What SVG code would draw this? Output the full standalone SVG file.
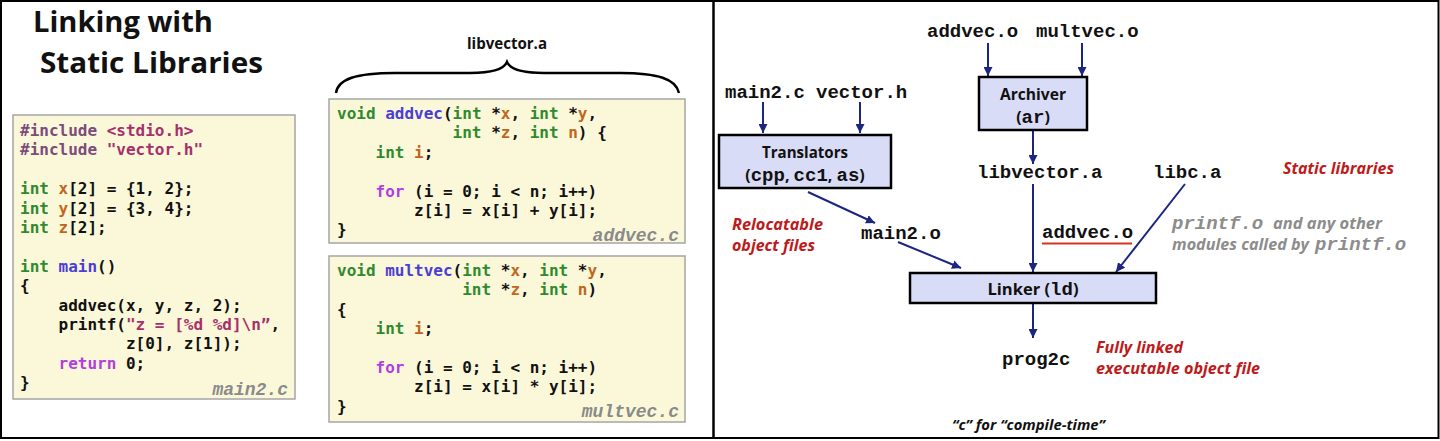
<svg xmlns="http://www.w3.org/2000/svg" width="1440" height="441" viewBox="0 0 1440 441">
<style>
text{white-space:pre}
.code{font-family:"DejaVu Sans Mono",monospace;font-weight:bold;font-size:16px;fill:#111}
.kw{fill:#2F8A2F}.var{fill:#C2651C}.fn{fill:#4A3ED4}.ctl{fill:#B43DE0}.pp{fill:#7C4C7C}.str{fill:#A6306C}
.fname{font-family:"Liberation Mono",monospace;font-weight:bold;font-style:italic;font-size:18px;fill:#8A8A8A}
.cbox{fill:#FBF8DA;stroke:#A5A5A5;stroke-width:1.5}
.pbox{fill:#D9DCF6;stroke:#000;stroke-width:2.5}
.mono{font-family:"Liberation Mono",monospace;font-weight:bold;font-size:19px;fill:#111}
.sans{font-family:"Open Sans",Lato,sans-serif;font-weight:bold;fill:#111}
.red{font-family:"Open Sans",Lato,sans-serif;font-weight:bold;font-style:italic;font-size:16px;fill:#BE1A1A}
.gray{font-family:"Open Sans",Lato,sans-serif;font-weight:bold;font-style:italic;font-size:16px;fill:#8C8C8C}
.graymono{font-family:"Liberation Mono",monospace;font-weight:bold;font-style:italic;font-size:19px;fill:#8C8C8C}
.conn{stroke:#1C2580;stroke-width:2;fill:none;marker-end:url(#ah)}
</style>
<defs>
<marker id="ah" viewBox="0 0 10 10" refX="10" refY="5" markerWidth="9" markerHeight="9" markerUnits="userSpaceOnUse" orient="auto">
<path d="M0,0 L10,5 L0,10 Z" fill="#1C2580"/>
</marker>
</defs>
<rect x="0" y="0" width="1440" height="441" fill="#fff"/>
<rect x="1" y="1" width="1437.5" height="437" fill="none" stroke="#000" stroke-width="2"/>
<line x1="713.5" y1="0" x2="713.5" y2="439" stroke="#000" stroke-width="2.5"/>

<g id="title">
<text class="sans" x="33" y="32" font-size="29" font-weight="800" textLength="180" lengthAdjust="spacingAndGlyphs">Linking with</text>
<text class="sans" x="40" y="73" font-size="29" font-weight="800" textLength="223" lengthAdjust="spacingAndGlyphs">Static Libraries</text>
</g>

<g id="main2c">
<rect class="cbox" x="13" y="115" width="282" height="284"/>
<text class="code" x="20" y="136"><tspan class="pp">#include</tspan> <tspan class="str">&lt;stdio.h&gt;</tspan></text>
<text class="code" x="20" y="155.4"><tspan class="pp">#include</tspan> <tspan class="str">"vector.h"</tspan></text>
<text class="code" x="20" y="194.2"><tspan class="kw">int</tspan> <tspan class="var">x</tspan>[2] = {1, 2};</text>
<text class="code" x="20" y="213.6"><tspan class="kw">int</tspan> <tspan class="var">y</tspan>[2] = {3, 4};</text>
<text class="code" x="20" y="233"><tspan class="kw">int</tspan> <tspan class="var">z</tspan>[2];</text>
<text class="code" x="20" y="271.8"><tspan class="kw">int</tspan> <tspan class="fn">main</tspan>()</text>
<text class="code" x="20" y="291.2">{</text>
<text class="code" x="20" y="310.6">    addvec(x, y, z, 2);</text>
<text class="code" x="20" y="330">    printf(<tspan class="str">"z = [%d %d]\n”</tspan>,</text>
<text class="code" x="20" y="349.4">           z[0], z[1]);</text>
<text class="code" x="20" y="368.8">    <tspan class="ctl">return</tspan> 0;</text>
<text class="code" x="20" y="388.2">}</text>
<text class="fname" x="288" y="395" text-anchor="end">main2.c</text>
</g>

<g id="libvector-brace">
<path d="M336,93 C338,79 356,73 395,73 L470,73 C494,73 504,69 507,62 C510,69 520,73 544,73 L620,73 C658,73 676,79 679,93" fill="none" stroke="#000" stroke-width="2.5"/>
<text class="sans" x="507" y="49" font-size="16" text-anchor="middle" textLength="80" lengthAdjust="spacingAndGlyphs">libvector.a</text>
</g>

<g id="addvecc">
<rect class="cbox" x="329" y="99" width="356" height="144"/>
<text class="code" x="337" y="119"><tspan class="kw">void</tspan> <tspan class="fn">addvec</tspan>(<tspan class="kw">int</tspan> *<tspan class="var">x</tspan>, <tspan class="kw">int</tspan> *<tspan class="var">y</tspan>,</text>
<text class="code" x="337" y="138.4">            <tspan class="kw">int</tspan> *<tspan class="var">z</tspan>, <tspan class="kw">int</tspan> <tspan class="var">n</tspan>) {</text>
<text class="code" x="337" y="157.8">    <tspan class="kw">int</tspan> <tspan class="var">i</tspan>;</text>
<text class="code" x="337" y="196.6">    <tspan class="ctl">for</tspan> (i = 0; i &lt; n; i++)</text>
<text class="code" x="337" y="216">        z[i] = x[i] + y[i];</text>
<text class="code" x="337" y="235.4">}</text>
<text class="fname" x="679" y="241" text-anchor="end">addvec.c</text>
</g>

<g id="multvecc">
<rect class="cbox" x="329" y="256" width="356" height="166"/>
<text class="code" x="337" y="276"><tspan class="kw">void</tspan> <tspan class="fn">multvec</tspan>(<tspan class="kw">int</tspan> *<tspan class="var">x</tspan>, <tspan class="kw">int</tspan> *<tspan class="var">y</tspan>,</text>
<text class="code" x="337" y="295.4">             <tspan class="kw">int</tspan> *<tspan class="var">z</tspan>, <tspan class="kw">int</tspan> <tspan class="var">n</tspan>)</text>
<text class="code" x="337" y="314.8">{</text>
<text class="code" x="337" y="334.2">    <tspan class="kw">int</tspan> <tspan class="var">i</tspan>;</text>
<text class="code" x="337" y="373">    <tspan class="ctl">for</tspan> (i = 0; i &lt; n; i++)</text>
<text class="code" x="337" y="392.4">        z[i] = x[i] * y[i];</text>
<text class="code" x="337" y="411.8">}</text>
<text class="fname" x="679" y="417" text-anchor="end">multvec.c</text>
</g>

<g id="connectors">
<path class="conn" d="M988,43 L988,76"/>
<path class="conn" d="M1082,43 L1082,76"/>
<path class="conn" d="M1033,131 L1033,164"/>
<path class="conn" d="M763,102 L763,133"/>
<path class="conn" d="M860,102 L860,133"/>
<path class="conn" d="M808,192 L875,223"/>
<path class="conn" d="M898,242 L961,268"/>
<path class="conn" d="M1033,184 L1033,272"/>
<path class="conn" d="M1185,184 L1116,272"/>
<path class="conn" d="M1033,304 L1033,338"/>
</g>

<g id="addveco-in"><text class="mono" x="927" y="37">addvec.o</text></g>
<g id="multveco-in"><text class="mono" x="1036" y="37">multvec.o</text></g>
<g id="main2c-in"><text class="mono" x="725" y="98">main2.c</text></g>
<g id="vectorh-in"><text class="mono" x="816" y="98">vector.h</text></g>

<g id="archiver">
<rect class="pbox" x="979" y="77" width="108" height="53"/>
<text class="sans" x="1033" y="100" font-size="16" text-anchor="middle" textLength="66" lengthAdjust="spacingAndGlyphs">Archiver</text>
<text class="sans" x="1033" y="123" font-size="16" text-anchor="middle">(<tspan class="mono" font-size="18">ar</tspan>)</text>
</g>

<g id="translators">
<rect class="pbox" x="719" y="135" width="172" height="53"/>
<text class="sans" x="805" y="158" font-size="16" text-anchor="middle" textLength="86" lengthAdjust="spacingAndGlyphs">Translators</text>
<text class="sans" x="805" y="181" font-size="16" text-anchor="middle">(<tspan class="mono" font-size="18">cpp</tspan>, <tspan class="mono" font-size="18">cc1</tspan>, <tspan class="mono" font-size="18">as</tspan>)</text>
</g>

<g id="libvectora"><text class="mono" x="977" y="178">libvector.a</text></g>
<g id="libca"><text class="mono" x="1153" y="178">libc.a</text></g>

<g id="main2o"><text class="mono" x="861" y="239">main2.o</text></g>

<g id="addveco-sel">
<text class="mono" x="1042" y="238">addvec.o</text>
<line x1="1042" y1="243.5" x2="1132" y2="243.5" stroke="#D8321E" stroke-width="2"/>
</g>

<g id="linker">
<rect class="pbox" x="910" y="273" width="246" height="30"/>
<text class="sans" x="1033" y="295" font-size="16.5" text-anchor="middle">Linker (<tspan class="mono" font-size="18">ld</tspan>)</text>
</g>

<g id="prog2c"><text class="mono" x="1002" y="365">prog2c</text></g>

<g id="annotations">
<text class="red" x="732" y="230" textLength="91" lengthAdjust="spacingAndGlyphs">Relocatable</text>
<text class="red" x="732" y="251" textLength="83" lengthAdjust="spacingAndGlyphs">object files</text>
<text class="red" x="1283" y="174" textLength="111" lengthAdjust="spacingAndGlyphs">Static libraries</text>
<text class="graymono" x="1172" y="229">printf.o</text>
<text class="gray" x="1273" y="229" textLength="109" lengthAdjust="spacingAndGlyphs">and any other</text>
<text class="gray" x="1172" y="250" textLength="137" lengthAdjust="spacingAndGlyphs">modules called by</text>
<text class="graymono" x="1315" y="250">printf.o</text>
<text class="red" x="1096" y="353" textLength="87" lengthAdjust="spacingAndGlyphs">Fully linked</text>
<text class="red" x="1096" y="374" textLength="164" lengthAdjust="spacingAndGlyphs">executable object file</text>
<text class="sans" x="952" y="430" font-size="15" font-style="italic" textLength="153" lengthAdjust="spacingAndGlyphs">“c” for “compile-time”</text>
</g>
</svg>
